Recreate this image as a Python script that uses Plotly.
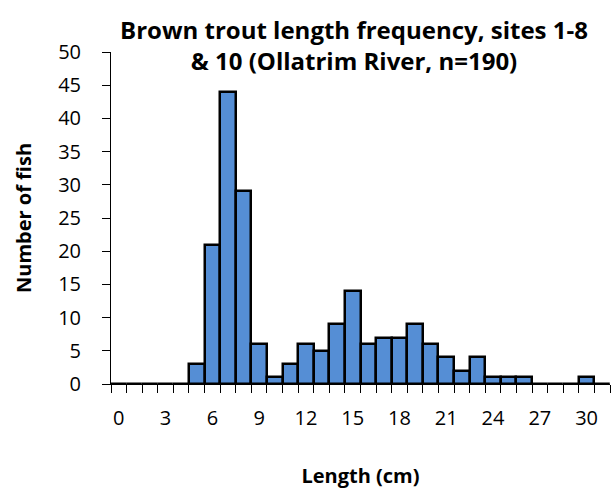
import plotly.graph_objects as go

lengths = list(range(0, 32))
counts = [0, 0, 0, 0, 0, 3, 21, 44, 29, 6, 1, 3, 6, 5, 9, 14, 6, 7, 7, 9, 6, 4, 2, 4, 1, 1, 1, 0, 0, 0, 1, 0]
x_tick_vals = list(range(0, 31, 3))
x_tick_text = [str(v) for v in x_tick_vals]
y_tick_vals = list(range(0, 51, 5))

FONT = "Open Sans, Lato, sans-serif"

fig = go.Figure(go.Bar(
    x=lengths, y=counts, width=1.0,
    marker=dict(color="#558ED5", line=dict(color="black", width=2.5)),
))

fig.update_layout(
    width=611, height=490,
    margin=dict(l=111, r=1, t=52, b=106, autoexpand=False),
    paper_bgcolor="white", plot_bgcolor="white",
    showlegend=False,
    font=dict(family=FONT, size=20, color="black"),
    title=dict(
        text="<b>Brown trout length frequency, sites 1-8<br>& 10 (Ollatrim River, n=190)</b>",
        x=354 / 611, xanchor="center", xref="container",
        y=1 - 39 / 490, yanchor="middle", yref="container",
        font=dict(family=FONT, size=24, color="black"),
        automargin=False,
    ),
    bargap=0,
)

fig.update_xaxes(
    range=[-0.5, 31.5], showgrid=False, zeroline=False, automargin=False,
    showline=True, linecolor="black", linewidth=1,
    tickmode="array", tickvals=x_tick_vals, ticktext=x_tick_text,
    ticks="", ticklabelstandoff=16,
    tickfont=dict(family=FONT, size=20),
    minor=dict(tickmode="linear", tick0=-0.5, dtick=1, ticks="outside",
               ticklen=8, tickcolor="black", tickwidth=1, showgrid=False),
    title=dict(text="<b>Length (cm)</b>", font=dict(family=FONT, size=20), standoff=38),
)

fig.update_yaxes(
    range=[0, 50], showgrid=False, zeroline=False, automargin=False,
    showline=True, linecolor="black", linewidth=1,
    tickmode="array", tickvals=y_tick_vals,
    ticks="outside", ticklen=8, tickcolor="black", ticklabelstandoff=17,
    tickfont=dict(family=FONT, size=20),
    title=dict(text="<b>Number of fish</b>", font=dict(family=FONT, size=20), standoff=21),
)

fig.write_html("out.html", config={"displayModeBar": False},
               post_script="document.body.style.margin='0';")
